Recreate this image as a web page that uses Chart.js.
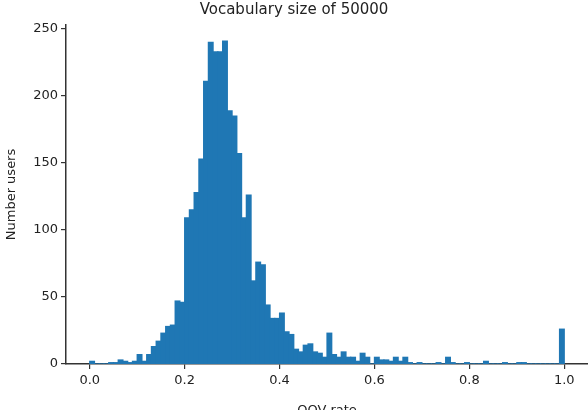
<!DOCTYPE html>
<html>
<head>
<meta charset="utf-8">
<script src="https://cdn.jsdelivr.net/npm/chart.js@4"></script>
<style>
  html, body { margin: 0; padding: 0; overflow: hidden; background: #fff; }
  #wrap { width: 588px; height: 418px; }
</style>
</head>
<body>
<div id="wrap"><canvas id="hist"></canvas></div>
<script>
// histogram of OOV rate, 100 bins over [0, 1]
const binCounts = [
  2, 0, 0, 0, 1, 1, 3, 2, 1, 2,
  7, 2, 7, 13, 17, 23, 28, 29, 47, 46,
  109, 115, 128, 153, 211, 240, 233, 233, 241, 189,
  185, 157, 109, 126, 62, 76, 74, 44, 34, 34,
  38, 24, 22, 11, 9, 14, 15, 9, 8, 5,
  23, 7, 5, 9, 5, 5, 2, 8, 5, 0,
  5, 3, 3, 2, 5, 2, 5, 1, 0, 1,
  0, 0, 0, 1, 0, 5, 1, 0, 0, 1,
  0, 0, 0, 2, 0, 0, 0, 1, 0, 0,
  1, 1, 0, 0, 0, 0, 0, 0, 0, 26
];
const binCenters = binCounts.map((_, i) => (i + 0.5) / 100);
const xTicks = [0, 0.2, 0.4, 0.6, 0.8, 1.0];
const yTicks = [0, 50, 100, 150, 200, 250];

const font = { family: 'DejaVu Sans', size: 13 };
const axisColor = '#333';

new Chart(document.getElementById('hist').getContext('2d'), {
  type: 'bar',
  data: {
    datasets: [{
      label: 'Number users',
      data: binCenters.map((x, i) => ({ x: x, y: binCounts[i] })),
      backgroundColor: '#1f77b4',
      barPercentage: 1.0,
      categoryPercentage: 1.0,
      borderWidth: 0,
      inflateAmount: 0.6
    }]
  },
  options: {
    responsive: true,
    maintainAspectRatio: false,
    animation: false,
    layout: { padding: { left: 0, right: 0, top: 0, bottom: 0 } },
    plugins: {
      legend: { display: false },
      tooltip: { enabled: false },
      title: {
        display: true,
        text: 'Vocabulary size of 50000',
        color: '#222',
        font: { family: 'DejaVu Sans', size: 15, weight: 'normal' },
        padding: { top: 1, bottom: 6 }
      }
    },
    scales: {
      x: {
        type: 'linear',
        offset: false,
        min: -0.05,
        max: 1.05,
        afterBuildTicks: s => { s.ticks = xTicks.map(v => ({ value: v })); },
        afterFit: s => { s.height = 54; },
        ticks: {
          color: '#222', font: font, padding: 4,
          callback: v => Number(v).toFixed(1)
        },
        grid: { offset: false, drawOnChartArea: false, drawTicks: true, tickLength: 5, color: axisColor, lineWidth: 1.2 },
        border: { display: true, color: axisColor, width: 1.5 },
        title: { display: true, text: 'OOV rate', color: '#222', font: font, padding: { top: 3, bottom: 0 } }
      },
      y: {
        min: 0,
        max: 253,
        afterBuildTicks: s => { s.ticks = yTicks.map(v => ({ value: v })); },
        afterFit: s => { s.width = 66; },
        ticks: { color: '#222', font: font, padding: 3 },
        grid: { drawOnChartArea: false, drawTicks: true, tickLength: 5, color: axisColor, lineWidth: 1.2 },
        border: { display: true, color: axisColor, width: 1.5 },
        title: { display: true, text: 'Number users', color: '#222', font: font, padding: { bottom: 0 } }
      }
    }
  }
});
</script>
</body>
</html>
